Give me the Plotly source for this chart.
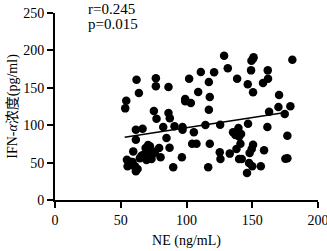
import plotly.graph_objects as go

ne = [53.4, 54.2, 54.7, 55.2, 62.0, 63.8, 61.5, 61.5, 59.5, 59.0, 60.8, 61.5, 62.8, 66.6, 65.8,
      68.9, 69.6, 70.9, 72.2, 73.4, 75.2, 76.7, 76.7, 77.2, 75.7, 79.2, 80.3, 82.3, 86.3, 86.3,
      87.3, 87.1, 84.8, 89.9, 90.9, 97.0, 96.5, 99.0, 99.0, 102.0, 103.3, 105.6, 97.0, 104.3, 107.6,
      108.9, 110.9, 114.4, 116.5, 117.0, 117.7, 117.0, 117.7, 121.0, 125.3, 125.8, 125.6, 128.6, 131.4,
      132.9, 135.4, 137.2, 138.0, 138.5, 139.5, 140.0, 141.0, 141.5, 140.0, 142.0, 146.0, 146.6, 146.8,
      147.6, 148.0, 149.1, 149.4, 150.6, 151.0, 150.0, 150.6, 150.6, 149.6, 156.5, 158.2, 159.0, 161.8,
      162.0, 161.5, 162.8, 170.4, 169.9, 174.7, 175.2, 176.7, 176.7, 179.0, 180.5,
      70.8, 75.9, 67.0, 64.5, 69.6, 57.0, 60.7]
ifn = [122.5, 132.8, 53.9, 45.0, 160.9, 143.0, 94.0, 80.7, 65.0, 50.8, 45.0, 38.3, 41.4, 95.4, 59.3,
       69.5, 58.4, 65.0, 71.7, 54.8, 119.0, 162.7, 152.0, 108.7, 62.8, 69.5, 57.0, 97.6, 151.0, 116.3,
       109.2, 70.0, 82.9, 43.7, 98.5, 97.6, 57.0, 135.0, 132.0, 162.0, 129.7, 90.5, 94.0, 75.3, 75.3,
       144.4, 171.0, 100.3, 43.7, 157.8, 137.7, 120.8, 75.3, 170.7, 63.7, 54.8, 100.7, 193.0, 176.0,
       62.0, 90.5, 86.9, 68.2, 162.0, 96.3, 85.0, 75.3, 88.2, 54.8, 54.8, 36.0, 154.6, 102.0,
       49.5, 62.8, 173.3, 186.3, 189.0, 190.7, 45.0, 144.0, 74.0, 68.2, 45.0, 156.4, 66.4, 173.3,
       162.2, 97.6, 118.0, 140.4, 124.3, 115.0, 55.3, 55.7, 86.0, 125.2, 187.6,
       73.5, 64.6, 60.2, 55.7, 53.5, 51.2, 44.5]

fit_x = [53, 175]
fit_y = [84, 117]

x_ticks = [0, 50, 100, 150, 200]
y_ticks = [0, 50, 100, 150, 200, 250]

font = "Liberation Serif, Times New Roman, Noto Sans CJK SC, serif"

fig = go.Figure()
fig.add_trace(go.Scatter(x=ne, y=ifn, mode="markers",
                         marker=dict(color="black", size=8.5, line=dict(width=0)),
                         showlegend=False, cliponaxis=False, hoverinfo="skip"))
fig.add_trace(go.Scatter(x=fit_x, y=fit_y, mode="lines",
                         line=dict(color="black", width=1.6), showlegend=False, hoverinfo="skip"))

axis_common = dict(showgrid=False, zeroline=False, showline=True, linecolor="black", linewidth=2,
                   ticks="outside", ticklen=6, tickwidth=2, tickcolor="black",
                   automargin=False, tickfont=dict(size=14), ticklabeloverflow="allow")

fig.update_layout(
    width=327, height=251,
    margin=dict(l=55, r=9, t=13, b=51),
    paper_bgcolor="white", plot_bgcolor="white",
    font=dict(family=font, color="black", size=14),
    xaxis=dict(range=[0, 200], tickvals=x_ticks,
               title=dict(text="NE (ng/mL)", standoff=8, font=dict(size=14)), **axis_common),
    yaxis=dict(range=[0, 250], tickvals=y_ticks,
               title=dict(text="IFN-<i>α</i>浓度(pg/ml)", standoff=2, font=dict(size=14)), **axis_common),
)
fig.add_annotation(text="r=0.245", xref="paper", yref="paper", x=(86 - 55) / 263, y=(200 - 9) / 187,
                   showarrow=False, xanchor="left", yanchor="middle", font=dict(size=15))
fig.add_annotation(text="p=0.015", xref="paper", yref="paper", x=(86 - 55) / 263, y=(200 - 24) / 187,
                   showarrow=False, xanchor="left", yanchor="middle", font=dict(size=15))

fig.write_html("out.html", config={"displayModeBar": False},
               post_script="document.body.style.margin='0';")
